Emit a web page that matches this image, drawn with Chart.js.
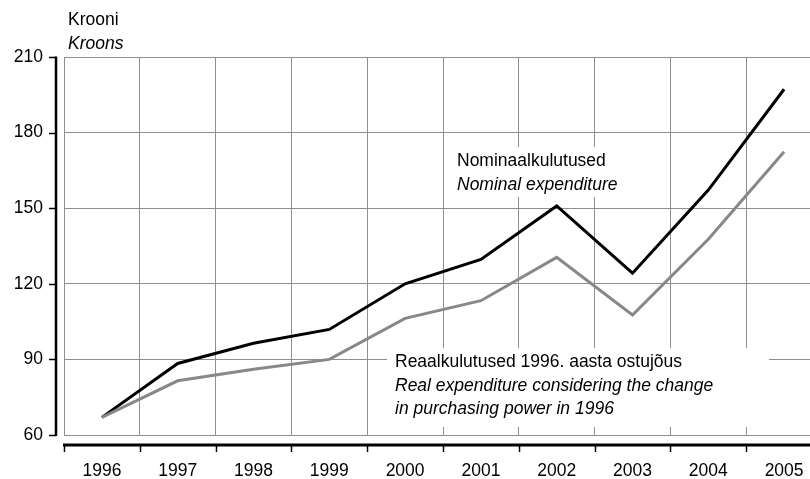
<!DOCTYPE html>
<html>
<head>
<meta charset="utf-8">
<script src="https://cdn.jsdelivr.net/npm/chart.js@4/dist/chart.umd.min.js"></script>
<style>
  html, body { margin: 0; padding: 0; background: #fff; overflow: hidden; width: 810px; height: 479px; }
  #wrap { position: absolute; left: 0; top: 0; width: 830px; height: 479px; }
</style>
</head>
<body>
<div id="wrap"><canvas id="c" width="830" height="479"></canvas></div>
<script>
// ---- data ----
const categories = ['1996', '1997', '1998', '1999', '2000', '2001', '2002', '2003', '2004', '2005'];
const nominal = [67, 88.4, 96.4, 101.9, 120, 129.7, 150.9, 124.2, 157.2, 197.2];
const real = [67, 81.5, 86.1, 90, 106.3, 113.3, 130.5, 107.6, 137.7, 172.4];
const yMin = 60;
const yMax = 210;
const yStep = 30;
const unitLabel = ['Krooni', 'Kroons'];
const nominalLabel = ['Nominaalkulutused', 'Nominal expenditure'];
const realLabel = ['Reaalkulutused 1996. aasta ostujõus', 'Real expenditure considering the change', 'in purchasing power in 1996'];

const FONT = '"Liberation Sans", Arial, sans-serif';
const FS = 17.5;
const GRID = '#8f8f8f';

const decor = {
  id: 'decor',
  beforeDatasetsDraw(chart) {
    const ctx = chart.ctx;
    ctx.save();
    // label boxes (white, hide gridlines)
    ctx.fillStyle = '#fff';
    ctx.fillRect(450, 147, 178, 50);
    ctx.fillRect(387, 348, 382, 79);
    ctx.fillStyle = '#000';
    ctx.textBaseline = 'alphabetic';
    ctx.textAlign = 'left';
    ctx.font = FS + 'px ' + FONT;
    ctx.fillText(nominalLabel[0], 457, 166);
    ctx.fillText(realLabel[0], 395, 367);
    ctx.font = 'italic ' + FS + 'px ' + FONT;
    ctx.fillText(nominalLabel[1], 457, 190);
    ctx.fillText(realLabel[1], 395, 391);
    ctx.fillText(realLabel[2], 395, 414);
    ctx.restore();
  },
  afterDraw(chart) {
    const ctx = chart.ctx;
    const ca = chart.chartArea;
    const x = chart.scales.x, y = chart.scales.y;
    ctx.save();
    ctx.strokeStyle = '#000';
    // y axis line (offset left of plot)
    const ax = ca.left - 8;
    ctx.lineWidth = 2.5;
    ctx.beginPath();
    ctx.moveTo(ax, y.getPixelForValue(yMax) - 0.5);
    ctx.lineTo(ax, y.getPixelForValue(yMin) + 1);
    ctx.stroke();
    ctx.lineWidth = 1.5;
    y.ticks.forEach(t => {
      const py = Math.round(y.getPixelForValue(t.value)) + 0.5;
      ctx.beginPath();
      ctx.moveTo(ax - 7, py);
      ctx.lineTo(ax, py);
      ctx.stroke();
    });
    // x axis line (offset below plot)
    const ay = ca.bottom + 10;
    ctx.lineWidth = 3;
    ctx.beginPath();
    ctx.moveTo(ca.left - 1, ay);
    ctx.lineTo(chart.width, ay);
    ctx.stroke();
    ctx.lineWidth = 1.5;
    for (let i = 0; i <= categories.length; i++) {
      const px = Math.round(x.getPixelForValue(i - 0.5)) + 0.5;
      ctx.beginPath();
      ctx.moveTo(px, ay);
      ctx.lineTo(px, ay + 7);
      ctx.stroke();
    }
    // unit label
    ctx.fillStyle = '#000';
    ctx.textAlign = 'left';
    ctx.textBaseline = 'alphabetic';
    ctx.font = FS + 'px ' + FONT;
    ctx.fillText(unitLabel[0], 68, 25);
    ctx.font = 'italic ' + FS + 'px ' + FONT;
    ctx.fillText(unitLabel[1], 68, 49);
    ctx.restore();
  }
};

new Chart(document.getElementById('c'), {
  type: 'line',
  data: {
    labels: categories,
    datasets: [
      { label: 'Real', data: real, borderColor: '#888888', borderWidth: 3, pointRadius: 0, tension: 0, fill: false },
      { label: 'Nominal', data: nominal, borderColor: '#000000', borderWidth: 3, pointRadius: 0, tension: 0, fill: false }
    ]
  },
  options: {
    responsive: false,
    animation: false,
    devicePixelRatio: 1,
    layout: { padding: { top: 57, right: 8, bottom: 0, left: 0 } },
    plugins: { legend: { display: false }, tooltip: { enabled: false }, title: { display: false } },
    scales: {
      x: {
        offset: true,
        grid: { offset: true, color: GRID, lineWidth: 1, drawTicks: false },
        border: { display: false },
        ticks: { color: '#000', font: { family: FONT, size: FS }, padding: 26, maxRotation: 0, autoSkip: false },
        afterFit(s) { s.height = 44; }
      },
      y: {
        min: yMin, max: yMax,
        grid: { color: GRID, lineWidth: 1, drawTicks: false },
        border: { display: false },
        ticks: { stepSize: yStep, color: '#000', font: { family: FONT, size: FS }, padding: 21 },
        afterFit(s) { s.width = 64; }
      }
    }
  },
  plugins: [decor]
});
</script>
</body>
</html>
